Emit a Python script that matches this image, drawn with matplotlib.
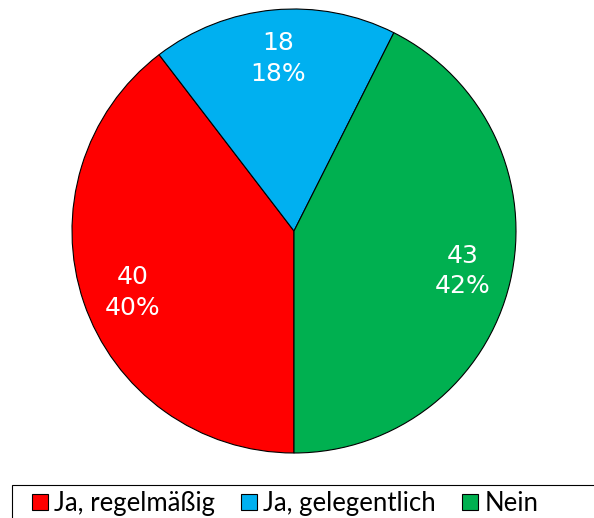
import numpy as np
import matplotlib.pyplot as plt
from matplotlib.patches import Patch, Rectangle

# data
labels = ['Ja, regelmäßig', 'Ja, gelegentlich', 'Nein']
counts = [40, 18, 43]
pct_labels = ['40%', '18%', '42%']
colors = ['#FF0000', '#00B0F0', '#00B050']

W, H = 594, 518
cx, cy, R = 294, H - 231, 222
fig = plt.figure(figsize=(W / 100, H / 100), dpi=100)
ax = fig.add_axes([0, 0, 1, 1])

wedges, texts, autotexts = ax.pie(
    counts, colors=colors, startangle=-90, counterclock=False,
    center=(cx, cy), radius=R, frame=True,
    autopct='%d', pctdistance=0.78,
    wedgeprops=dict(edgecolor='black', linewidth=0.8))
ax.set_xlim(0, W)
ax.set_ylim(0, H)
ax.set_aspect('equal')
ax.axis('off')

# small angular nudges so labels sit where the original put them
nudge = [2.2, 0, 0]
for t, w, c, p, dn in zip(autotexts, wedges, counts, pct_labels, nudge):
    ang = np.deg2rad((w.theta1 + w.theta2) / 2 + dn)
    t.set_position((cx + 0.78 * R * np.cos(ang), cy + 0.78 * R * np.sin(ang)))
    t.set_text('{}\n{}'.format(c, p))
    t.set_color('white')
    t.set_fontsize(18)
    t.set_linespacing(1.35)

# legend frame runs off the right edge like in the original
ax.add_patch(Rectangle((12, -5), 700, H - 485 + 5, facecolor='white',
                       edgecolor='black', linewidth=0.8, clip_on=False))

handles = [Patch(facecolor=c, edgecolor='black', linewidth=0.8) for c in colors]
leg = ax.legend(handles, labels, loc='upper left', ncol=3,
                bbox_to_anchor=(32 / W, 1 - 491 / H),
                prop={'family': ['Lato', 'DejaVu Sans'], 'size': 18.5},
                frameon=False, handlelength=0.62, handleheight=0.62,
                handletextpad=0.25, columnspacing=1.0, borderpad=0,
                borderaxespad=0)

fig.savefig('out.png', dpi=100)
